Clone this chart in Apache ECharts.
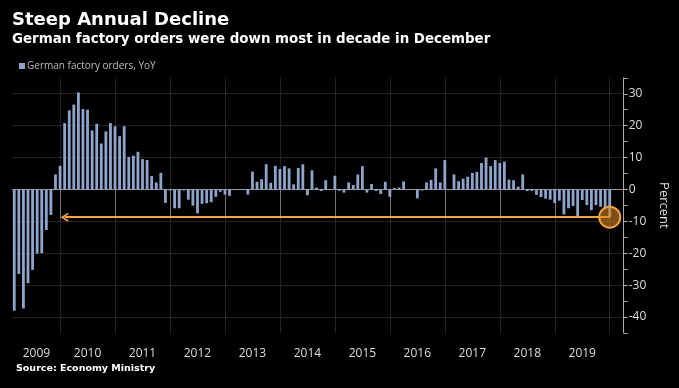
<!DOCTYPE html>
<html><head><meta charset="utf-8">
<script src="https://cdn.jsdelivr.net/npm/echarts@6/dist/echarts.min.js"></script>
<style>html,body{margin:0;padding:0;background:#000}#c{width:679px;height:388px}</style>
</head><body><div id="c"></div>
<script>
// Month-end positions counted in months from 1 Jan 2009; first bar = Feb 2009
const firstMonth = 2;
const yearNames = ['2009','2010','2011','2012','2013','2014','2015','2016','2017','2018','2019'];
const yoy2009 = [-38.0, -26.5, -37.3, -29.4, -25.2, -20.1, -20.0, -12.7, -8.0, 4.7, 7.4]; // Feb-Dec
const yoy2010 = [20.8, 24.8, 26.6, 30.4, 25.2, 25.0, 18.5, 20.6, 14.4, 18.2, 20.8, 19.8];
const yoy2011 = [16.7, 19.8, 10.2, 10.6, 11.8, 9.5, 9.2, 4.2, 2.2, 5.2, -4.2, -0.3];
const yoy2012 = [-5.9, -5.9, -0.3, -3.2, -5.1, -7.5, -4.5, -4.3, -4.0, -2.3, -0.7, -1.6];
const yoy2013 = [-2.0, -0.2, 0.1, -0.2, -1.6, 5.6, 2.4, 3.2, 7.9, 2.1, 7.4, 6.4];
const yoy2014 = [7.3, 6.6, 1.6, 6.7, 7.9, -1.8, 6.0, 0.6, -0.5, 2.9, -0.2, 4.3];
const yoy2015 = [-0.4, -1.0, 2.2, 1.4, 4.7, 7.3, -1.0, 1.7, -0.5, -1.4, 2.4, -2.3];
const yoy2016 = [0.5, 0.6, 2.5, -0.2, 0.1, -2.8, -0.3, 2.2, 3.0, 6.6, 2.2, 9.2];
const yoy2017 = [0.1, 4.7, 2.6, 3.4, 4.0, 5.2, 5.5, 8.3, 10.0, 7.3, 9.2, 8.3];
const yoy2018 = [8.7, 3.1, 2.9, 0.9, 4.7, -0.5, -0.5, -1.7, -2.4, -2.9, -3.2, -4.3];
const yoy2019 = [-3.5, -7.8, -5.9, -5.2, -8.3, -3.3, -4.9, -6.5, -4.9, -5.4, -5.9, -8.7];
const yTicks = [-40, -30, -20, -10, 0, 10, 20, 30];
const arrowEndMonth = 13; // Jan 2010, where the arrow points back to

const yoy = [].concat(yoy2009, yoy2010, yoy2011, yoy2012, yoy2013, yoy2014, yoy2015, yoy2016, yoy2017, yoy2018, yoy2019);
const barData = yoy.map((v, i) => [firstMonth + i, v]);
const lastPoint = barData[barData.length - 1];

const xMin = 1.66, xMax = 135.05;
const yearBounds = yearNames.map((y, k) => 12 * (k + 1));
const yearMids = yearNames.map((y, k) => {
  const a = Math.max(12 * k, xMin), b = 12 * (k + 1);
  return (a + b) / 2;
});

const chart = echarts.init(document.getElementById('c'));
chart.setOption({
  backgroundColor: '#000',
  animation: false,
  title: [
    { text: 'Steep Annual Decline', left: 12, top: 11, padding: 0,
      textStyle: { color: '#fff', fontSize: 18, fontWeight: 'bold', fontFamily: 'DejaVu Sans' } },
    { text: 'German factory orders were down most in decade in December', left: 12, top: 33, padding: 0,
      textStyle: { color: '#fff', fontSize: 13.4, fontWeight: 'bold', fontFamily: 'DejaVu Sans' } }
  ],
  legend: {
    left: 14, top: 56, icon: 'rect', itemWidth: 6, itemHeight: 6,
    textStyle: { color: '#bbb', fontSize: 10, fontFamily: 'Open Sans', padding: [0,0,0,-3] },
    data: ['German factory orders, YoY']
  },
  graphic: [
    { type: 'text', left: 16, top: 364,
      style: { text: 'Source: Economy Ministry', fill: '#fff', font: 'bold 9.5px "DejaVu Sans"' } }
  ],
  grid: { left: 12.7, right: 55.3, top: 77.8, bottom: 55, containLabel: false },
  xAxis: {
    type: 'value', min: xMin, max: xMax,
    axisLine: { show: true, lineStyle: { color: '#999', width: 1 } },
    axisTick: { show: true, customValues: yearBounds, length: 29, lineStyle: { color: '#777' } },
    axisLabel: { customValues: yearMids, color: '#ddd', fontSize: 12, fontFamily: 'Open Sans', margin: 15,
      formatter: v => yearNames[Math.floor(v / 12)] },
    splitLine: { show: true, lineStyle: { color: '#444', type: 'dotted' } }
  },
  yAxis: {
    type: 'value', position: 'right', min: -45, max: 35, interval: 5,
    axisLine: { show: true, lineStyle: { color: '#aaa' } },
    axisTick: { show: true, length: 4, lineStyle: { color: '#aaa' } },
    axisLabel: { color: '#ddd', fontSize: 12, fontFamily: 'Open Sans', margin: 5,
      formatter: v => (yTicks.indexOf(v) >= 0 ? String(v) : '') },
    splitLine: { show: true, lineStyle: { color: ['transparent', '#444'], type: 'dotted' } },
    name: 'Percent', nameLocation: 'middle', nameRotate: -90, nameGap: 25,
    nameTextStyle: { color: '#ddd', fontSize: 13, fontFamily: 'Open Sans' }
  },
  series: [{
    name: 'German factory orders, YoY',
    type: 'bar', data: barData, barWidth: 2.8,
    itemStyle: { color: '#8ea4cc' },
    markLine: {
      silent: true, animation: false,
      symbol: ['none', 'path://M5,0 L10,9 L8.4,10 L5,3.6 L1.6,10 L0,9 Z'],
      symbolSize: [9, 8],
      label: { show: false },
      lineStyle: { color: '#f5a443', width: 2, type: 'solid' },
      data: [[ { coord: lastPoint }, { coord: [arrowEndMonth, lastPoint[1]] } ]]
    },
    markPoint: {
      silent: true, animation: false,
      symbol: 'circle', symbolSize: 21,
      label: { show: false },
      itemStyle: { color: 'rgba(214,128,30,0.6)', borderColor: '#f0a040', borderWidth: 2 },
      data: [{ coord: lastPoint }]
    }
  }]
});
</script></body></html>
